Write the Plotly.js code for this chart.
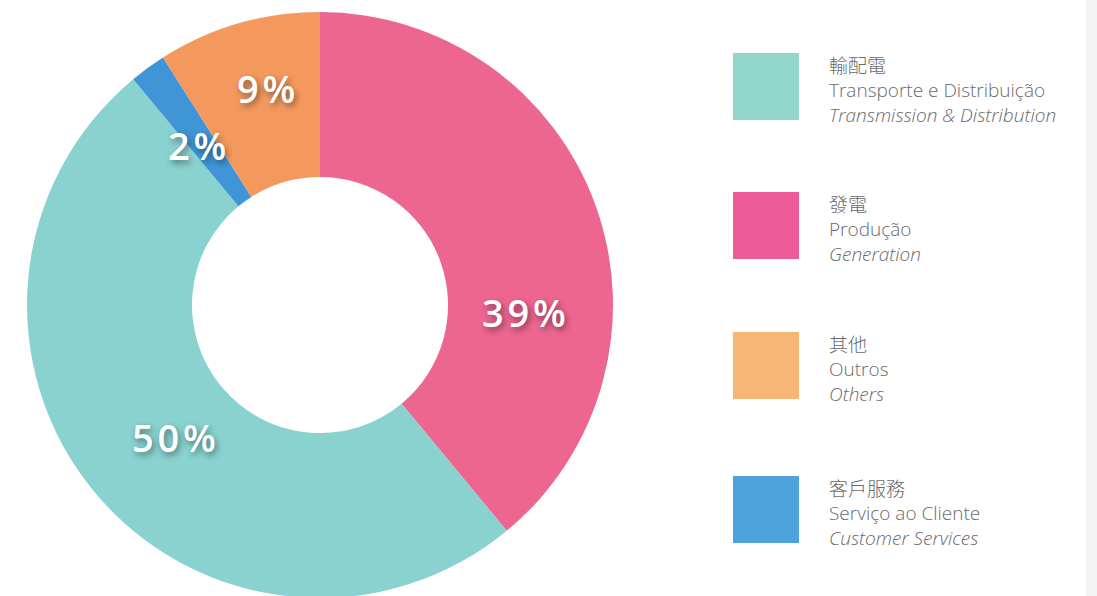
<!DOCTYPE html>
<html>
<head>
<meta charset="utf-8">
<script src="https://cdn.plot.ly/plotly-3.0.1.min.js"></script>
<style>
  html, body { margin: 0; padding: 0; overflow: hidden; background: #ffffff; }
  #chart { width: 1097px; height: 610px; }
</style>
</head>
<body>
<div id="chart"></div>
<script>
// ---- data (clockwise from 12 o'clock) ----
const sliceKeys   = ["Generation", "Transmission & Distribution", "Customer Services", "Others"];
const sliceValues = [39, 50, 2, 9];
const sliceColors = ["#ec6690", "#8ad2cf", "#3f95d6", "#f4995e"];
const sliceText   = ["39%", "50%", "2%", "9%"];

// ---- legend (display order) ----
const legendZh = ["輸配電", "發電", "其他", "客戶服務"];
const legendPt = ["Transporte e Distribuição", "Produção", "Outros", "Serviço ao Cliente"];
const legendEn = ["Transmission & Distribution", "Generation", "Others", "Customer Services"];
const legendColors = ["#92d6cc", "#ee5c98", "#f8b676", "#4ea1dc"];

const W = 1097, H = 610;
const px = x => x / W;
const py = y => 1 - y / H;

// pie geometry
const cx = 320, cy = 305, R = 293;

const trace = {
  type: "pie",
  values: sliceValues,
  labels: sliceKeys,
  marker: { colors: sliceColors, line: { width: 0 } },
  sort: false,
  direction: "clockwise",
  rotation: 0,
  hole: 0.437,
  textinfo: "none",
  hoverinfo: "label+percent",
  showlegend: false,
  domain: { x: [px(cx - R), px(cx + R)], y: [py(cy + R), py(cy - R)] }
};

// percentage label positions (pixel)
const labelPos = [[524, 312], [174, 437], [197, 145], [266, 88]];
const annotations = [];
const shapes = [];

sliceText.forEach((t, i) => {
  annotations.push({
    xref: "paper", yref: "paper",
    x: px(labelPos[i][0]), y: py(labelPos[i][1]),
    xanchor: "center", yanchor: "middle",
    text: t.split("").join("\u200A"), showarrow: false,
    font: { family: "Open Sans, sans-serif", size: 38, color: "#ffffff", weight: 600,
            shadow: "2px 3px 6px rgba(0,0,0,0.45)" }
  });
});

// legend blocks
const legendTop = [53, 192, 332, 476];
legendZh.forEach((zh, i) => {
  const top = legendTop[i];
  shapes.push({
    type: "rect", xref: "paper", yref: "paper",
    x0: px(733), x1: px(799), y0: py(top + 67), y1: py(top),
    fillcolor: legendColors[i], line: { width: 0 }
  });
  const lines = [
    { t: zh, y: top + 11, fam: "Noto Sans CJK TC, sans-serif", sz: 19 },
    { t: legendPt[i], y: top + 37, fam: "Open Sans, sans-serif", sz: 19 },
    { t: "<i>" + legendEn[i] + "</i>", y: top + 62, fam: "Open Sans, sans-serif", sz: 19 }
  ];
  lines.forEach(l => {
    annotations.push({
      xref: "paper", yref: "paper",
      x: px(827), y: py(l.y),
      xanchor: "left", yanchor: "middle",
      text: l.t, showarrow: false,
      font: { family: l.fam, size: l.sz, color: "#6a6a6a", weight: 300 }
    });
  });
});

// light strip on right edge
shapes.push({
  type: "rect", xref: "paper", yref: "paper",
  x0: px(1086), x1: 1, y0: 0, y1: 1,
  fillcolor: "#f4f4f4", line: { width: 0 }, layer: "below"
});

const layout = {
  width: W, height: H,
  margin: { l: 0, r: 0, t: 0, b: 0 },
  paper_bgcolor: "#ffffff",
  plot_bgcolor: "#ffffff",
  showlegend: false,
  annotations: annotations,
  shapes: shapes
};

Plotly.newPlot("chart", [trace], layout, { displayModeBar: false, staticPlot: true });
</script>
</body>
</html>
